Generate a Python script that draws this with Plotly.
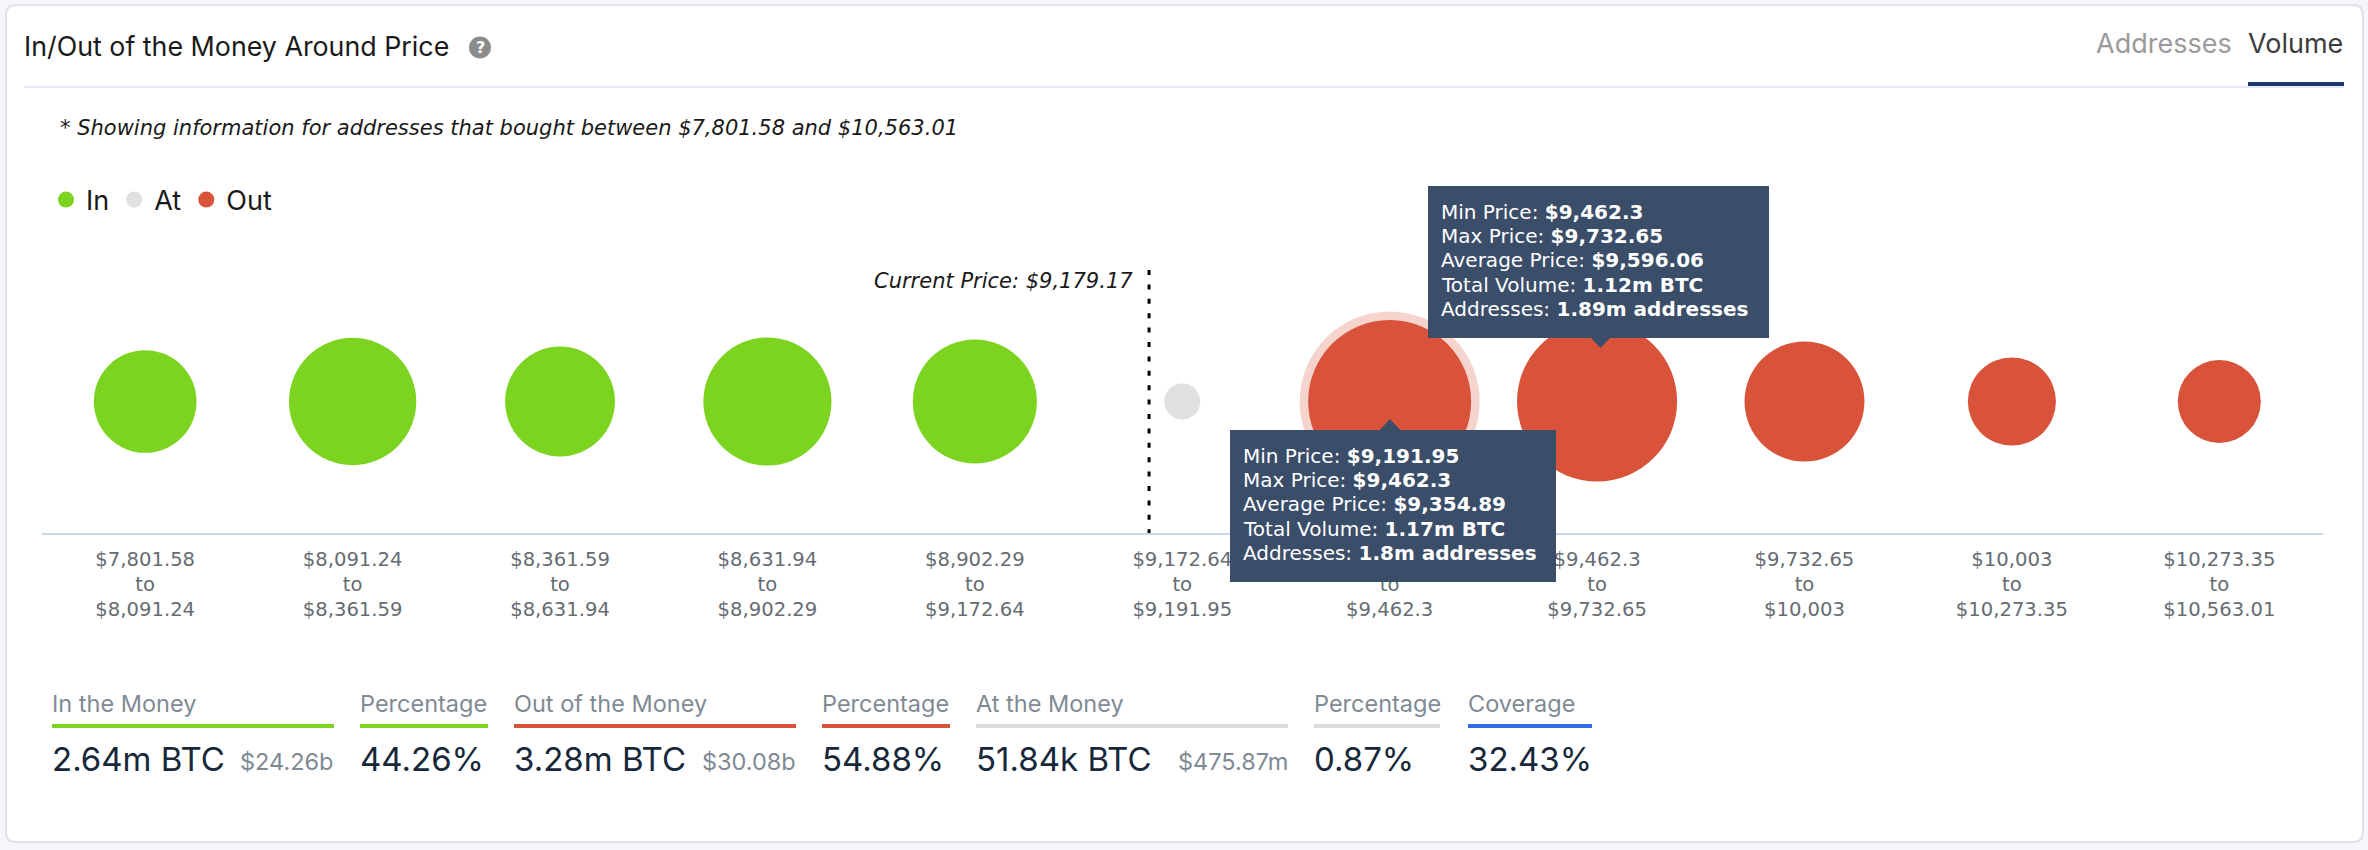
import plotly.graph_objects as go

W, H = 2368, 850

# ---- data ----
LOWS = ["$7,801.58", "$8,091.24", "$8,361.59", "$8,631.94", "$8,902.29", "$9,172.64",
        "$9,191.95", "$9,462.3", "$9,732.65", "$10,003", "$10,273.35"]
HIGHS = ["$8,091.24", "$8,361.59", "$8,631.94", "$8,902.29", "$9,172.64", "$9,191.95",
         "$9,462.3", "$9,732.65", "$10,003", "$10,273.35", "$10,563.01"]
IN_POS = [0, 1, 2, 3, 4]
IN_VOLUME = [0.36, 0.63, 0.43, 0.64, 0.59]
AT_POS = [5]
AT_VOLUME = [0.05184]
OUT_POS = [6, 7, 8, 9, 10]
OUT_VOLUME = [1.17, 1.12, 0.54, 0.24, 0.205]
CURRENT_PRICE_POS = 4.84

TOOLTIP_LOW = [("Min Price: ", "$9,191.95"), ("Max Price: ", "$9,462.3"), ("Average Price: ", "$9,354.89"),
               ("Total Volume: ", "1.17m BTC"), ("Addresses: ", "1.8m addresses")]
TOOLTIP_HIGH = [("Min Price: ", "$9,462.3"), ("Max Price: ", "$9,732.65"), ("Average Price: ", "$9,596.06"),
                ("Total Volume: ", "1.12m BTC"), ("Addresses: ", "1.89m addresses")]

GREEN, GREY, RED, BLUE = "#7dd420", "#e0e0e0", "#d9523a", "#2f6be6"
# label, bar start, bar end, colour, value, small value
STATS = [("In the Money", 52, 334, GREEN, "2.64m BTC", "$24.26b"),
         ("Percentage", 360, 488, GREEN, "44.26%", ""),
         ("Out of the Money", 514, 796, RED, "3.28m BTC", "$30.08b"),
         ("Percentage", 822, 950, RED, "54.88%", ""),
         ("At the Money", 976, 1288, "#dcdcdc", "51.84k BTC", "$475.87m"),
         ("Percentage", 1314, 1440, "#dcdcdc", "0.87%", ""),
         ("Coverage", 1468, 1592, BLUE, "32.43%", "")]

MIN_D, MAX_D = 36, 163
ALL = IN_VOLUME + AT_VOLUME + OUT_VOLUME
ZMIN, ZMAX = min(ALL), max(ALL)


def diam(v):
    return MIN_D + ((v - ZMIN) / (ZMAX - ZMIN)) ** 0.5 * (MAX_D - MIN_D)


def px(x):
    return x / W


def py(y):
    return 1 - y / H


FONT = "Inter"
BODY = "DejaVu Sans"
TIP = "#3a4d69"

fig = go.Figure()
fig.add_trace(go.Scatter(x=[OUT_POS[0]], y=[0], mode="markers", showlegend=False, hoverinfo="skip",
                         marker=dict(size=diam(OUT_VOLUME[0]) + 17, color=RED, opacity=0.25, line_width=0)))
for name, xs, vs, col in [("In", IN_POS, IN_VOLUME, GREEN), ("At", AT_POS, AT_VOLUME, GREY), ("Out", OUT_POS, OUT_VOLUME, RED)]:
    fig.add_trace(go.Scatter(x=xs, y=[0] * len(xs), mode="markers", name=name,
                             marker=dict(size=[diam(v) for v in vs], color=col, opacity=1, line_width=0),
                             customdata=vs, hovertemplate="%{customdata}m BTC<extra>" + name + "</extra>"))

shapes = [
    dict(type="path", xref="paper", yref="paper", layer="below",
         path=f"M {px(16)} {py(5)} L {px(2353)} {py(5)} Q {px(2363)} {py(5)} {px(2363)} {py(15)} "
              f"L {px(2363)} {py(832)} Q {px(2363)} {py(842)} {px(2353)} {py(842)} L {px(16)} {py(842)} "
              f"Q {px(6)} {py(842)} {px(6)} {py(832)} L {px(6)} {py(15)} Q {px(6)} {py(5)} {px(16)} {py(5)} Z",
         fillcolor="white", line=dict(color="#dfe1e4", width=2)),
    dict(type="line", xref="paper", yref="paper", layer="below", x0=px(24), x1=px(2344), y0=py(87), y1=py(87),
         line=dict(color="#e6eaf4", width=2)),
    dict(type="rect", xref="paper", yref="paper", layer="below", x0=px(2248), x1=px(2344), y0=py(82), y1=py(86),
         fillcolor="#1f3571", line_width=0),
    dict(type="circle", xref="paper", yref="paper", layer="below", x0=px(469), x1=px(491), y0=py(36.5), y1=py(58.5),
         fillcolor="#8c8c8c", line_width=0),
    dict(type="line", xref="x", yref="paper", x0=CURRENT_PRICE_POS, x1=CURRENT_PRICE_POS, y0=py(270), y1=py(533),
         line=dict(color="black", width=3, dash="5px,9.4px")),
    dict(type="path", xref="paper", yref="paper", fillcolor=TIP, line_width=0,
         path=f"M {px(1379)} {py(431)} L {px(1390)} {py(419)} L {px(1401)} {py(431)} Z"),
    dict(type="path", xref="paper", yref="paper", fillcolor=TIP, line_width=0,
         path=f"M {px(1590)} {py(337)} L {px(1600.5)} {py(348)} L {px(1611)} {py(337)} Z"),
]

ann = []


def text(x, y, s, size, color="#1a1a1a", anchor="left", family=FONT):
    ann.append(dict(xref="paper", yref="paper", x=px(x), y=py(y), text=s, showarrow=False, xanchor=anchor,
                    yanchor="middle", font=dict(family=family, size=size, color=color), borderpad=0, borderwidth=0))


text(24, 46, "In/Out of the Money Around Price", 26.8)
text(480, 47.5, "<b>?</b>", 16, "white", "center", BODY)
text(2096, 44, "Addresses", 27, "#9a9a9a")
text(2248, 44, "Volume", 27, "#3c3c3c")
text(60, 128, "<i>* Showing information for addresses that bought between $7,801.58 and $10,563.01</i>", 21, "#1a1a1a", "left", BODY)
text(1133, 281, "<i>Current Price: $9,179.17</i>", 21, "#1a1a1a", "right", BODY)

for label, x0, x1, col, val, small in STATS:
    text(x0, 703, label, 23.5, "#7f8a94")
    shapes.append(dict(type="rect", xref="paper", yref="paper", layer="below", x0=px(x0), x1=px(x1), y0=py(724), y1=py(728),
                       fillcolor=col, line_width=0))
    text(x0, 759, val, 33, "#16283a")
    if small:
        text(x1, 761, small, 23.5, "#7f8a94", "right")


def tooltip(x0, x1, y0, y1, tx, ty, rows):
    shapes.append(dict(type="rect", xref="paper", yref="paper", x0=px(x0), x1=px(x1), y0=py(y0), y1=py(y1),
                       fillcolor=TIP, line_width=0))
    for i, (a, b) in enumerate(rows):
        text(tx, ty + 24.2 * i, f"{a}<b>{b}</b>", 20, "white", "left", BODY)


tooltip(1230, 1556, 430, 582, 1243, 456, TOOLTIP_LOW)
tooltip(1428, 1769, 186, 338, 1441, 212, TOOLTIP_HIGH)

fig.update_layout(
    width=W, height=H, margin=dict(l=0, r=0, t=0, b=0), autosize=False,
    paper_bgcolor="#f5f6fa", plot_bgcolor="rgba(0,0,0,0)",
    shapes=shapes, annotations=ann,
    showlegend=True,
    legend=dict(orientation="h", x=px(46), y=py(200), xanchor="left", yanchor="middle", traceorder="normal",
                bgcolor="rgba(0,0,0,0)", itemclick=False, itemdoubleclick=False, itemwidth=30,
                font=dict(family=FONT, size=27, color="#1a1a1a")),
    xaxis=dict(domain=[px(41.5), px(2323)], range=[-0.5, 10.5], tickmode="array", tickvals=list(range(11)),
               ticktext=[f"{a}<br>to<br>{b}" for a, b in zip(LOWS, HIGHS)], showgrid=False, zeroline=False,
               showline=True, linecolor="#ccd6eb", linewidth=2, ticks="", fixedrange=True, ticklabelstandoff=7,
               tickfont=dict(family=BODY, size=19.6, color="#666c72"), automargin=False),
    yaxis=dict(domain=[py(533), py(270)], range=[-1, 1], visible=False, fixedrange=True),
    hovermode="closest",
)

fig.write_html("out.html", post_script="document.body.style.margin='0';", config={"displayModeBar": False})
